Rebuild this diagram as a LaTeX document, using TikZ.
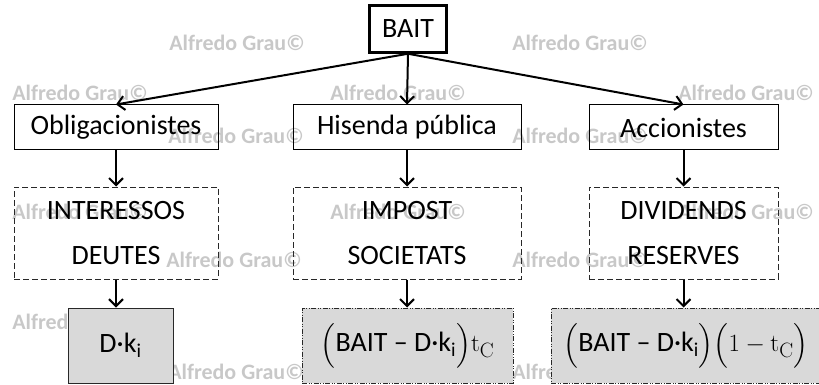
\documentclass[tikz,border=0pt]{standalone}
\usepackage{amsmath}
\usepackage[no-math]{fontspec}
\setmainfont{Carlito}
\usetikzlibrary{arrows.meta}
\definecolor{wmgray}{RGB}{200,200,200}
\definecolor{resfill}{RGB}{217,217,217}
\definecolor{edge}{RGB}{40,40,40}

\begin{document}
\begin{tikzpicture}[x=1pt,y=-1pt,
  wmark/.style={text=wmgray, font=\fontsize{22}{22}\selectfont\bfseries, inner sep=0pt},
  txt/.style={font=\fontsize{28}{45}\selectfont, align=center, inner sep=0pt},
  topbox/.style={txt, draw, line width=2.5pt},
  agent/.style={txt, draw, line width=1pt, minimum height=45pt},
  flow/.style={txt, draw=edge, line width=1pt, dash pattern=on 6pt off 3pt, minimum height=92pt},
  result/.style={txt, draw=edge, fill=resfill, line width=1pt, minimum height=75pt},
  resultdd/.style={result, dash pattern=on 5pt off 1.5pt on 1pt off 1.5pt on 1pt off 1.5pt},
  arr/.style={line width=2pt, -{Straight Barb[length=7pt,width=14pt,line width=2pt]}}]
\useasboundingbox (0,0) rectangle (819,385);
\clip (0,0) rectangle (819,385);

% watermark grid
\foreach \wx/\wy [count=\k] in {237/43,580/43,80/93,398/93,746/93,236/136,580/136,
  80/212,398/212,746/212,234/260,580/260,80/322,236/372,580/372}
  \node[wmark] (wm\k) at (\wx,\wy) {Alfredo Grau©};

% top node
\node[topbox, minimum width=77pt, minimum height=47pt] (bait) at (408,29) {BAIT};

% stakeholders
\node[agent, minimum width=204pt] (obl) at (116,127.5) {Obligacionistes};
\node[agent, minimum width=228pt] (his) at (407,127.5) {Hisenda pública};
\node[agent, minimum width=189pt] (acc) at (683.5,127.5) {Accionistes};

% concepts
\node[flow, minimum width=204pt] (int) at (116,233) {INTERESSOS\\DEUTES};
\node[flow, minimum width=228pt] (imp) at (407,233) {IMPOST\\SOCIETATS};
\node[flow, minimum width=189pt] (div) at (683.5,233) {DIVIDENDS\\RESERVES};

% amounts
\node[result, minimum width=105pt] (r1) at (120.5,345.5) {D·k$_{\text{i}}$};
\node[resultdd, minimum width=211pt] (r2) at (407.5,345.5)
  {$\Bigl(\text{BAIT – D·k}_{\text{i}}\Bigr)\mathrm{t}_{\mathrm{C}}$};
\node[resultdd, minimum width=270pt] (r3) at (686,345.5)
  {$\Bigl(\text{BAIT – D·k}_{\text{i}}\Bigr)\Bigl(1-\mathrm{t}_{\mathrm{C}}\Bigr)$};

% connectors
\draw[arr] (bait.south) -- (obl.north);
\draw[arr] (bait.south) -- (his.north);
\draw[arr] (bait.south) -- (acc.north);
\draw[arr] (obl.south) -- (int.north);
\draw[arr] (his.south) -- (imp.north);
\draw[arr] (acc.south) -- (div.north);
\draw[arr] (int.south) -- (r1.north -| int.south);
\draw[arr] (imp.south) -- (r2.north -| imp.south);
\draw[arr] (div.south) -- (r3.north -| div.south);
\end{tikzpicture}
\end{document}
